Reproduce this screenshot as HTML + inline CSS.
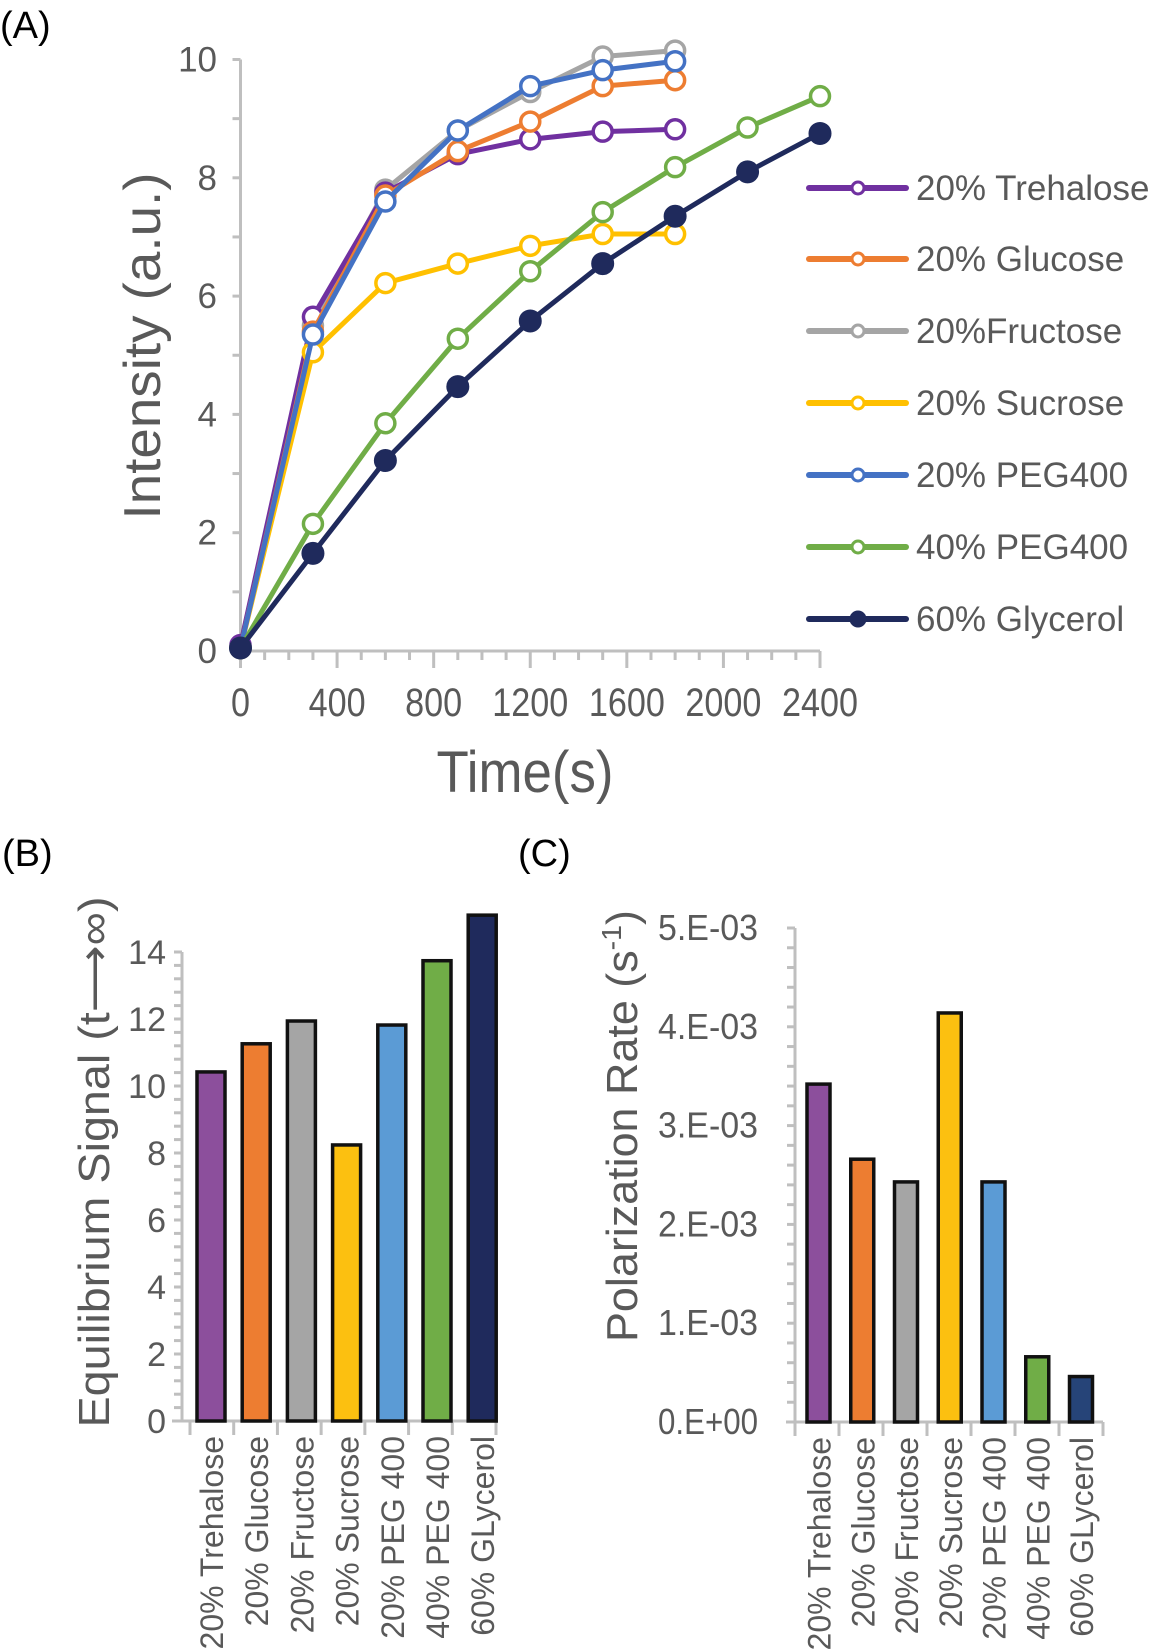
<!DOCTYPE html>
<html><head><meta charset="utf-8">
<style>
html,body{margin:0;padding:0;background:#fff;}
svg{display:block;font-family:"Liberation Sans",sans-serif;}
text{fill:#595959;}
</style></head>
<body>
<svg id="fig" width="1151" height="1649" viewBox="0 0 1151 1649">
<text x="0" y="38" font-size="38" style="fill:#000">(A)</text>
<text x="2" y="866" font-size="38" style="fill:#000">(B)</text>
<text x="518" y="866" font-size="38" style="fill:#000">(C)</text>
<g id="chartA"></g>
<g id="chartB"></g>
<g id="chartC"></g>
</svg>
<script>
// ---------- Chart A data ----------
const timesShort = [0, 300, 600, 900, 1200, 1500, 1800];
const timesLong = [0, 300, 600, 900, 1200, 1500, 1800, 2100, 2400];
const trehalose = [0.1, 5.65, 7.75, 8.4, 8.65, 8.78, 8.82];
const glucose = [0.05, 5.4, 7.7, 8.45, 8.95, 9.55, 9.65];
const fructose = [0.05, 5.5, 7.8, 8.8, 9.45, 10.05, 10.15];
const sucrose = [0.05, 5.05, 6.22, 6.55, 6.85, 7.05, 7.05];
const peg20 = [0.05, 5.35, 7.6, 8.8, 9.55, 9.82, 9.97];
const peg40 = [0.05, 2.15, 3.85, 5.28, 6.42, 7.42, 8.18, 8.85, 9.38];
const glycerol = [0.05, 1.65, 3.22, 4.47, 5.58, 6.55, 7.35, 8.1, 8.75];
const seriesNames = ["20% Trehalose","20% Glucose","20%Fructose","20% Sucrose","20% PEG400","40% PEG400","60% Glycerol"];
const xTicksA = [0, 400, 800, 1200, 1600, 2000, 2400];
const yTicksA = [0, 2, 4, 6, 8, 10];
// ---------- Chart B/C data ----------
const barCats = ["20% Trehalose","20% Glucose","20% Fructose","20% Sucrose","20% PEG 400","40% PEG 400","60% GLycerol"];
const eqSignal = [10.42, 11.26, 11.94, 8.24, 11.82, 13.74, 15.1];
const yTicksB = [0, 2, 4, 6, 8, 10, 12, 14];
const polRate = [3.42e-3, 2.66e-3, 2.43e-3, 4.14e-3, 2.43e-3, 0.66e-3, 0.46e-3];
const yTicksC = [0, 1e-3, 2e-3, 3e-3, 4e-3, 5e-3];
const yTickLabelsC = ["0.E+00","1.E-03","2.E-03","3.E-03","4.E-03","5.E-03"];

const NS = "http://www.w3.org/2000/svg";
function mk(parent, tag, attrs, txt){
  const e = document.createElementNS(NS, tag);
  for (const k in attrs) e.setAttribute(k, attrs[k]);
  if (txt !== undefined) e.textContent = txt;
  parent.appendChild(e);
  return e;
}
const GRID = "#bfbfbf";

// ================= Chart A =================
(function(){
  const g = document.getElementById('chartA');
  const xA = t => 240.5 + t * (820 - 240.5) / 2400;
  const yA = v => 651 - v * (651 - 59.5) / 10;
  let ax = mk(g,'line',{x1:xA(0),y1:yA(10),x2:xA(0),y2:yA(0),stroke:GRID,'stroke-width':3});
  
  
  for (let v=0; v<=10; v++){
    const t = mk(g,'line',{x1:xA(0)-8,y1:yA(v),x2:xA(0),y2:yA(v),stroke:GRID,'stroke-width':3});
    
    
  }
  yTicksA.forEach(v=>{
    const t = mk(g,'text',{x:217,y:yA(v)+12,'font-size':35,'text-anchor':'end'}, String(v));
    
    
  });
  ax = mk(g,'line',{x1:xA(0),y1:yA(0),x2:xA(2400),y2:yA(0),stroke:GRID,'stroke-width':3});
  
  
  for (let s=0; s<=2400; s+=100){
    const major = s % 400 === 0;
    const t = mk(g,'line',{x1:xA(s),y1:yA(0),x2:xA(s),y2:yA(0)+(major?17:9),stroke:GRID,'stroke-width':3});
    
    
  }
  xTicksA.forEach(s=>{
    const lbl = String(s);
    const t = mk(g,'text',{x:xA(s),y:716,'font-size':40,'text-anchor':'middle',textLength:lbl.length*19,lengthAdjust:'spacingAndGlyphs'}, lbl);
    
    
  });
  let tt = mk(g,'text',{x:525,y:792,'font-size':58,'text-anchor':'middle',textLength:177,lengthAdjust:'spacingAndGlyphs'},'Time(s)');
  
  
  tt = mk(g,'text',{x:0,y:0,'font-size':52,'text-anchor':'middle',textLength:347,lengthAdjust:'spacingAndGlyphs',transform:'translate(160,346) rotate(-90)'},'Intensity (a.u.)');
  
  

  const series = [
    {d:trehalose,t:timesShort,c:'#7030a0',fill:false},
    {d:glucose,t:timesShort,c:'#ed7d31',fill:false},
    {d:fructose,t:timesShort,c:'#a5a5a5',fill:false},
    {d:sucrose,t:timesShort,c:'#ffc000',fill:false},
    {d:peg20,t:timesShort,c:'#4472c4',fill:false},
    {d:peg40,t:timesLong,c:'#70ad47',fill:false},
    {d:glycerol,t:timesLong,c:'#1f2a5c',fill:true}
  ];
  const drawOrder = [2,0,1,3,4,5,6];
  drawOrder.forEach(i=>{
    const s = series[i];
    const sg = mk(g,'g',{});
    
    
    const pts = s.d.map((v,k)=>xA(s.t[k])+','+yA(v)).join(' ');
    const pl = mk(sg,'polyline',{points:pts,fill:'none',stroke:s.c,'stroke-width':5,'stroke-linejoin':'round'});
    
    
    s.d.forEach((v,k)=>{
      const m = mk(sg,'circle',{cx:xA(s.t[k]),cy:yA(v),r:s.fill?10.5:9.5,fill:s.fill?s.c:'#fff',stroke:s.c,'stroke-width':s.fill?2:3.5});
      
      
    });
  });
  const legColors = series.map(s=>s.c);
  const legY = [188, 259, 331, 403, 475, 547, 619];
  seriesNames.forEach((n,i)=>{
    const lg = mk(g,'g',{});
    
    
    mk(lg,'line',{x1:809,y1:legY[i],x2:906,y2:legY[i],stroke:legColors[i],'stroke-width':6,'stroke-linecap':'round'});
    mk(lg,'circle',{cx:858,cy:legY[i],r:series[i].fill?7:6,fill:series[i].fill?legColors[i]:'#fff',stroke:legColors[i],'stroke-width':3});
    mk(lg,'text',{x:916,y:legY[i]+12,'font-size':35},n);
  });
})();

// ================= Bar charts =================
function barChart(gid, vals, yMax, ticks, tickLabels, opt){
  const g = document.getElementById(gid);
  const y = v => opt.y0 - v * (opt.y0 - opt.yTop) / yMax;
  const ax = mk(g,'line',{x1:opt.axX,y1:opt.yTop,x2:opt.axX,y2:opt.y0,stroke:GRID,'stroke-width':3});
  
  
  for (let v=0; v<=yMax+1e-12; v+=opt.minor){
    const t = mk(g,'line',{x1:opt.axX-8,y1:y(v),x2:opt.axX,y2:y(v),stroke:GRID,'stroke-width':3});
    
    
  }
  ticks.forEach((v,i)=>{
    const lbl = tickLabels[i];
    const a = {x:opt.labX,y:y(v)+12,'font-size':opt.fs,'text-anchor':'end'};
    if (opt.tlw) { a.textLength = opt.tlw; a.lengthAdjust='spacingAndGlyphs'; }
    const t = mk(g,'text',a,lbl);
    
    
  });
  const xa = mk(g,'line',{x1:opt.xStart,y1:opt.y0,x2:opt.xEnd,y2:opt.y0,stroke:GRID,'stroke-width':3});
  
  
  const n = vals.length;
  const bw = (opt.xEnd - opt.bStart)/n;
  for (let i=0;i<=n;i++){
    const t = mk(g,'line',{x1:opt.bStart+i*bw,y1:opt.y0,x2:opt.bStart+i*bw,y2:opt.y0+14,stroke:GRID,'stroke-width':3});
    
    
  }
  vals.forEach((v,i)=>{
    const cx = opt.c0 + i*opt.step;
    const r = mk(g,'rect',{x:cx-opt.w/2,y:y(v),width:opt.w,height:opt.y0-y(v),fill:opt.colors[i],stroke:'#111','stroke-width':3.5});
    
    
    const t = mk(g,'text',{x:0,y:0,'font-size':32,'text-anchor':'end',transform:'translate('+(cx+12)+','+(opt.y0+15)+') rotate(-90)'},barCats[i]);
    
    
  });
  const tt = mk(g,'text',{x:0,y:0,'font-size':44,'text-anchor':'middle',textLength:opt.titleLen,lengthAdjust:'spacingAndGlyphs',transform:'translate('+opt.titleX+','+opt.titleY+') rotate(-90)'});
  
  
  return tt;
}
const tB = barChart('chartB', eqSignal, 14, yTicksB, yTicksB.map(String), {
  y0:1421, yTop:952, axX:182, labX:166, fs:34, minor:0.4, xStart:172, xEnd:496, bStart:190,
  c0:211, step:45.2, w:28, titleX:109, titleY:1162, titleLen:531,
  colors:['#8c4f9c','#ed7d31','#a5a5a5','#fcc010','#5b9bd5','#70ad47','#1f2a5c']
});
tB.textContent = 'Equilibrium Signal (t\u27F6\u221E)';
const tC = barChart('chartC', polRate, 5e-3, yTicksC, yTickLabelsC, {
  y0:1422, yTop:928, axX:795, labX:758, fs:36, tlw:100, minor:0.2e-3, xStart:786, xEnd:1103, bStart:795,
  c0:818.5, step:43.75, w:23, titleX:637, titleY:1126, titleLen:432,
  colors:['#8c4f9c','#ed7d31','#a5a5a5','#fcc010','#5b9bd5','#70ad47','#264478']
});
tC.appendChild(document.createTextNode('Polarization Rate (s'));
const sup = document.createElementNS(NS,'tspan');
sup.setAttribute('dy','-16');
sup.setAttribute('font-size','28');
sup.textContent='-1';
tC.appendChild(sup);
const cl = document.createElementNS(NS,'tspan');
cl.setAttribute('dy','16');
cl.textContent=')';
tC.appendChild(cl);
</script>
</body></html>
